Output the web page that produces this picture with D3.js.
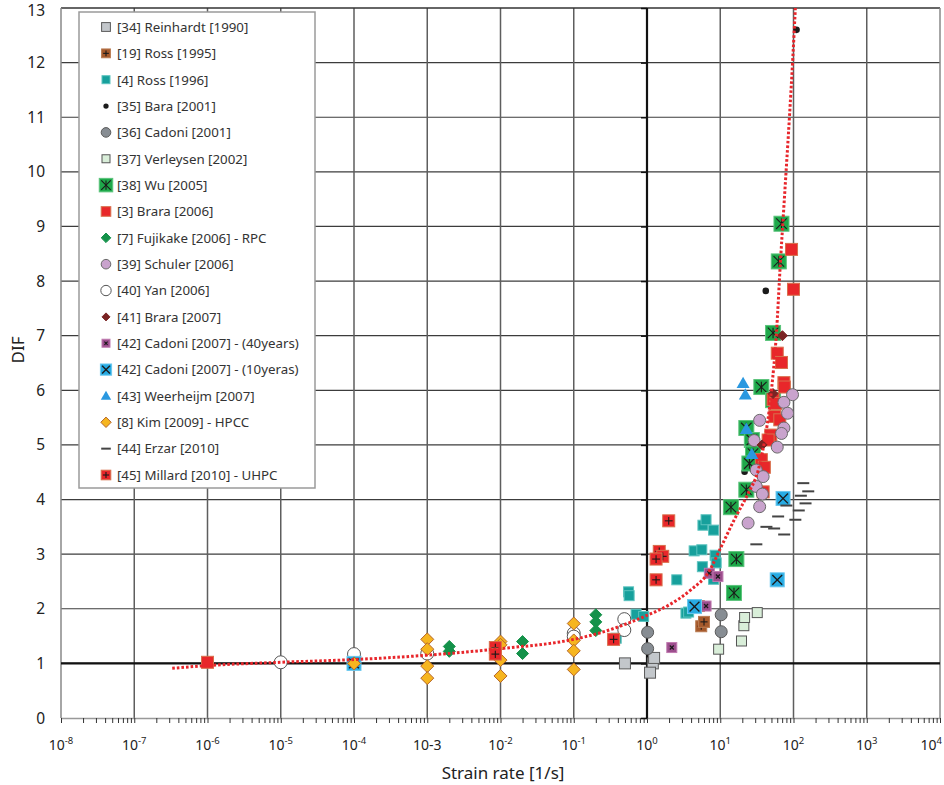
<!DOCTYPE html>
<html>
<head>
<meta charset="utf-8">
<script src="https://cdn.jsdelivr.net/npm/d3@7"></script>
<style>
  body { margin: 0; background: #fff; }
  svg { display: block; font-family: "Noto Sans", sans-serif; }
</style>
</head>
<body>
<svg id="chart" width="944" height="785"></svg>
<script>
// ---- data: [strain rate 1/s, DIF] ----
const reinhardt1990 = [[0.5, 1.0], [1.2, 1.0], [1.25, 1.1], [1.1, 0.83]]
const ross1995 = [[5.1, 2.05], [5.5, 1.68], [6.0, 1.76]]
const ross1996 = [[0.38, 1.46], [0.56, 2.31], [0.57, 2.24], [0.71, 1.90], [0.90, 1.86], [2.55, 2.53],
  [3.4, 1.92], [3.7, 1.94], [4.4, 3.06], [5.6, 3.08], [5.7, 2.77], [5.8, 3.53], [6.4, 3.63],
  [8.1, 3.44], [8.1, 2.54], [8.5, 2.98], [8.8, 2.84]]
const bara2001 = [[110, 12.6], [41.8, 7.82], [21.5, 4.51]]
const cadoni2001 = [[1.02, 1.57], [1.02, 1.27], [10.3, 1.89], [10.3, 1.58]]
const verleysen2002 = [[9.5, 1.26], [19.5, 1.41], [21, 1.69], [21.5, 1.84], [32, 1.93]]
const wu2005 = [[68.5, 9.05], [63, 8.36], [52.6, 7.05], [36.4, 6.06], [52.6, 5.82], [22.7, 5.31],
  [27, 5.09], [28, 4.84], [25, 4.66], [22.7, 4.18], [14, 3.86], [16.6, 2.91], [15.4, 2.29]]
const brara2006 = [[1e-6, 1.02], [94, 8.58], [100, 7.85], [60, 6.68], [68.6, 6.51], [74, 6.14],
  [75, 6.06], [52.6, 5.83], [57.3, 5.76], [55.6, 5.52], [65, 5.46], [49, 5.18], [45, 5.09],
  [36.4, 4.73], [40, 4.59], [38.5, 4.14]]
const fujikake2006 = [[0.002, 1.31], [0.002, 1.22], [0.02, 1.40], [0.02, 1.18], [0.2, 1.89], [0.2, 1.76], [0.2, 1.60]]
const schuler2006 = [[97, 5.92], [74, 5.78], [83, 5.58], [74, 5.31], [68.6, 5.21], [34.5, 5.45], [29, 5.08],
  [60, 4.96], [31, 4.54], [38.5, 4.42], [31, 4.24], [37.6, 4.10], [34.5, 3.87], [24, 3.57]]
const yan2006 = [[1e-5, 1.02], [1e-4, 1.17], [1e-3, 1.18], [0.1, 1.55], [0.1, 1.49], [0.49, 1.81], [0.49, 1.61]]
const brara2007 = [[70.6, 7.0], [52.6, 5.94], [37.3, 5.0]]
const cadoni2007a = [[7.1, 2.65], [9.3, 2.59], [6.4, 2.05], [2.18, 1.29]]
const cadoni2007b = [[1e-4, 1.0], [4.45, 2.04], [60, 2.53], [72, 4.02]]
const weerheijm2007 = [[20.5, 6.13], [22, 5.92], [22.7, 5.29], [27, 4.83]]
const kim2009 = [[1e-4, 1.0], [1e-3, 1.44], [1e-3, 1.26], [1e-3, 0.95], [1e-3, 0.73], [0.01, 1.40],
  [0.01, 1.34], [0.01, 1.06], [0.01, 0.77], [0.1, 1.73], [0.1, 1.42], [0.1, 1.23], [0.1, 0.89]]
const erzar2010 = [[136, 4.30], [159, 4.15], [126, 4.07], [146, 3.93], [80, 3.89], [118, 3.80],
  [61.7, 3.69], [106, 3.63], [42.7, 3.50], [54.4, 3.47], [74.6, 3.36], [31.1, 3.18]]
const millard2010 = [[1.98, 3.61], [1.47, 3.05], [1.64, 2.96], [1.33, 2.91], [1.33, 2.53], [0.35, 1.44],
  [0.0085, 1.29], [0.0085, 1.17]]

// dotted trend curve, read point by point
const trend = [[3.3e-7, 0.91], [1e-6, 0.96], [1e-5, 1.02], [1e-4, 1.07], [1e-3, 1.15], [1e-2, 1.27],
  [0.1, 1.44], [0.23, 1.56], [1, 1.88], [2, 2.07], [4, 2.35], [7, 2.68], [10, 3.1], [15.8, 3.65],
  [24, 4.11], [33, 4.54], [39, 4.97], [50, 6.0], [58.5, 7.05], [66, 8.3], [75, 9.5], [88, 11.0],
  [98, 12.1], [106, 13.0]]

const legendLabels = ['[34] Reinhardt [1990]', '[19] Ross [1995]', '[4] Ross [1996]', '[35] Bara [2001]',
  '[36] Cadoni [2001]', '[37] Verleysen [2002]', '[38] Wu [2005]', '[3] Brara [2006]',
  '[7] Fujikake [2006] - RPC', '[39] Schuler [2006]', '[40] Yan [2006]', '[41] Brara [2007]',
  '[42] Cadoni [2007] - (40years)', '[42] Cadoni [2007] - (10yeras)', '[43] Weerheijm [2007]',
  '[8] Kim [2009] - HPCC', '[44] Erzar [2010]', '[45] Millard [2010] - UHPC']

const xTickExponents = [-8, -7, -6, -5, -4, -3, -2, -1, 0, 1, 2, 3, 4]
const yTicks = [0, 1, 2, 3, 4, 5, 6, 7, 8, 9, 10, 11, 12, 13]

// series table: data + look
const series = [
  { data: reinhardt1990, shape: 'square', size: 11, fill: '#c3c7cb', stroke: '#5a5a5a' },
  { data: ross1995, shape: 'squarePlus', size: 11, fill: '#a65a2c', stroke: '#b87a50' },
  { data: ross1996, shape: 'square', size: 10, fill: '#17a09c', stroke: '#5cc3bf' },
  { data: bara2001, shape: 'dot', size: 3.3, fill: '#1b1b1b' },
  { data: cadoni2001, shape: 'circle', size: 6, fill: '#878d93', stroke: '#5a5a5a' },
  { data: verleysen2002, shape: 'square', size: 10, fill: '#d9eed9', stroke: '#555' },
  { data: wu2005, shape: 'squareStar', size: 15, fill: '#1ea84a', stroke: '#5cc47c' },
  { data: brara2006, shape: 'square', size: 12, fill: '#e8272a', stroke: '#d8704c' },
  { data: fujikake2006, shape: 'diamond', size: 12, fill: '#14924a', stroke: '#14924a' },
  { data: schuler2006, shape: 'circle', size: 6, fill: '#c9a3cd', stroke: '#6a6a6a' },
  { data: yan2006, shape: 'circle', size: 6.5, fill: '#fff', stroke: '#555' },
  { data: brara2007, shape: 'diamond', size: 10, fill: '#7a2424', stroke: '#7a2424' },
  { data: cadoni2007a, shape: 'squareSmallX', size: 10, fill: '#9c4e8d', stroke: '#c07ab0' },
  { data: cadoni2007b, shape: 'squareX', size: 14, fill: '#27abe3', stroke: '#6cc8ee' },
  { data: weerheijm2007, shape: 'triangle', size: 13, fill: '#2a98e0' },
  { data: kim2009, shape: 'diamond', size: 13, fill: '#f6b51f', stroke: '#b5652a' },
  { data: erzar2010, shape: 'dash', size: 12, fill: '#444' },
  { data: millard2010, shape: 'squarePlus', size: 12, fill: '#e8272a', stroke: '#d8704c' }
]

const svg = d3.select('#chart')
const margin = { left: 61, right: 4, top: 8, bottom: 67 }
const W = 944, H = 785
const x = d3.scaleLog().domain([1e-8, 1e4]).range([margin.left, W - margin.right])
const y = d3.scaleLinear().domain([0, 13]).range([H - margin.bottom, margin.top])

// grid
const grid = svg.append('g')
grid.selectAll('.hg').data(yTicks.slice(1, -1)).enter().append('line')
  .attr('x1', x(1e-8)).attr('x2', x(1e4))
  .attr('y1', d => y(d)).attr('y2', d => y(d))
  .attr('stroke', '#3c3c3c').attr('stroke-width', 1.2)
grid.selectAll('.vg').data(xTickExponents.slice(1, -1)).enter().append('line')
  .attr('x1', d => x(Math.pow(10, d))).attr('x2', d => x(Math.pow(10, d)))
  .attr('y1', y(13)).attr('y2', y(0))
  .attr('stroke', '#5e5e5e').attr('stroke-width', 1.5)

// frame
svg.append('line').attr('x1', x(1e-8)).attr('x2', x(1e4)).attr('y1', y(13)).attr('y2', y(13))
  .attr('stroke', '#333').attr('stroke-width', 1.5)
svg.append('line').attr('x1', x(1e-8)).attr('x2', x(1e-8)).attr('y1', y(13)).attr('y2', y(0))
  .attr('stroke', '#888').attr('stroke-width', 1.5)
svg.append('line').attr('x1', x(1e4)).attr('x2', x(1e4)).attr('y1', y(13)).attr('y2', y(0))
  .attr('stroke', '#888').attr('stroke-width', 1.5)

// bottom axis with log minor ticks
const minorTicks = []
xTickExponents.forEach(e => {
  for (let m = 1; m < 10; m++) {
    const v = m * Math.pow(10, e)
    if (v <= 1e4) minorTicks.push(v)
  }
})
const xAxis = svg.append('g')
  .attr('transform', `translate(0,${y(0)})`)
  .call(d3.axisBottom(x).tickValues(minorTicks).tickFormat('').tickSizeInner(5).tickSizeOuter(0))
xAxis.select('.domain').attr('stroke', '#999').attr('stroke-width', 1.5)
xAxis.selectAll('.tick line').attr('stroke', '#333').attr('stroke-width', 1)

// x tick labels
const xl = svg.append('g').attr('font-size', 14).attr('fill', '#222')
xTickExponents.forEach((e, i) => {
  const last = i === xTickExponents.length - 1
  const t = xl.append('text')
    .attr('x', last ? W - 2 : x(Math.pow(10, e))).attr('y', 750)
    .attr('text-anchor', last ? 'end' : 'middle').attr('fill', '#222')
  if (e === -3) {
    t.text('10-3')
  } else {
    t.append('tspan').text('10')
    t.append('tspan').attr('dy', -6).attr('font-size', 9.5).text(e)
  }
})

// y tick labels
svg.append('g').selectAll('text').data(yTicks).enter().append('text')
  .attr('x', 45).attr('y', d => Math.max(y(d) + 5.5, 16))
  .attr('text-anchor', 'end').attr('font-size', 15.5).attr('fill', '#222')
  .text(d => d)

// axis titles
svg.append('text').attr('x', 503).attr('y', 779).attr('text-anchor', 'middle')
  .attr('font-size', 17).attr('fill', '#222').text('Strain rate [1/s]')
svg.append('text').attr('transform', `translate(24,350) rotate(-90)`).attr('text-anchor', 'middle')
  .attr('font-size', 17).attr('fill', '#222').text('DIF')

// bold reference axes: DIF = 1 and strain rate = 10^0
svg.append('line').attr('x1', x(1e-8)).attr('x2', x(1e4)).attr('y1', y(1)).attr('y2', y(1))
  .attr('stroke', '#111').attr('stroke-width', 2.2)
svg.append('line').attr('x1', x(1)).attr('x2', x(1)).attr('y1', y(13)).attr('y2', y(0))
  .attr('stroke', '#111').attr('stroke-width', 2.2)
svg.append('g').attr('transform', `translate(${x(1)},0)`)
  .call(d3.axisLeft(y).tickValues(yTicks).tickFormat('').tickSizeInner(6).tickSizeOuter(0))
  .call(g => g.select('.domain').remove())
  .call(g => g.selectAll('.tick line').attr('stroke', '#111').attr('stroke-width', 1.5))

// markers
function drawMarker(g, s, k) {
  const sz = s.size * k, h = sz / 2
  const isSq = s.shape.indexOf('square') === 0
  if (isSq) {
    g.append('rect').attr('x', -h).attr('y', -h).attr('width', sz).attr('height', sz)
      .attr('fill', s.fill).attr('stroke', s.stroke).attr('stroke-width', 1)
  }
  const ln = (x1, y1, x2, y2, w) => g.append('line').attr('x1', x1).attr('y1', y1)
    .attr('x2', x2).attr('y2', y2).attr('stroke', '#1a1a1a').attr('stroke-width', w)
  if (s.shape === 'squarePlus') {
    const a = h * 0.65
    ln(-a, 0, a, 0, 1.1); ln(0, -a, 0, a, 1.1)
  } else if (s.shape === 'squareStar') {
    const a = h * 0.7
    ln(0, -a, 0, a, 1.1); ln(-a, -a, a, a, 1.1); ln(-a, a, a, -a, 1.1)
  } else if (s.shape === 'squareX') {
    const a = h * 0.7
    ln(-a, -a, a, a, 1.3); ln(-a, a, a, -a, 1.3)
  } else if (s.shape === 'squareSmallX') {
    const a = h * 0.4
    ln(-a, -a, a, a, 1.2); ln(-a, a, a, -a, 1.2)
  } else if (s.shape === 'dot') {
    g.append('circle').attr('r', sz).attr('fill', s.fill)
  } else if (s.shape === 'circle') {
    g.append('circle').attr('r', sz).attr('fill', s.fill).attr('stroke', s.stroke).attr('stroke-width', 1)
  } else if (s.shape === 'diamond') {
    g.append('path').attr('d', `M0,${-h}L${h},0L0,${h}L${-h},0Z`)
      .attr('fill', s.fill).attr('stroke', s.stroke).attr('stroke-width', 1)
  } else if (s.shape === 'triangle') {
    g.append('path').attr('d', `M0,${-h}L${h},${h * 0.75}L${-h},${h * 0.75}Z`).attr('fill', s.fill)
  } else if (s.shape === 'dash') {
    g.append('line').attr('x1', -h).attr('x2', h).attr('stroke', s.fill).attr('stroke-width', 2)
  }
}

const plot = svg.append('g')
series.forEach(s => {
  plot.append('g').selectAll('g').data(s.data).enter().append('g')
    .attr('transform', d => `translate(${x(d[0])},${y(d[1])})`)
    .each(function () { drawMarker(d3.select(this), s, 1) })
})

// trend curve
svg.append('defs').append('clipPath').attr('id', 'plotclip').append('rect')
  .attr('x', x(1e-8)).attr('y', y(13)).attr('width', x(1e4) - x(1e-8)).attr('height', y(0) - y(13))
const line = d3.line().x(d => x(d[0])).y(d => y(d[1])).curve(d3.curveMonotoneX)
svg.append('path').datum(trend).attr('d', line).attr('clip-path', 'url(#plotclip)')
  .attr('fill', 'none').attr('stroke', '#e8262b').attr('stroke-width', 3)
  .attr('stroke-dasharray', '2.6,2')

// legend
const lg = svg.append('g')
lg.append('rect').attr('x', 79).attr('y', 12).attr('width', 236).attr('height', 476)
  .attr('fill', '#fff').attr('stroke', '#9a9a9a').attr('stroke-width', 1.5)
const ly = d3.scalePoint().domain(d3.range(legendLabels.length)).range([27, 475])
legendLabels.forEach((label, i) => {
  const s = series[i]
  const mk = lg.append('g').attr('transform', `translate(106,${ly(i)})`)
  drawMarker(mk, s, s.shape === 'squareStar' ? 0.9 : 0.8)
  lg.append('text').attr('x', 117).attr('y', ly(i) + 4.8)
    .attr('font-size', 13.3).attr('fill', '#333').text(label)
})
</script>
</body>
</html>
